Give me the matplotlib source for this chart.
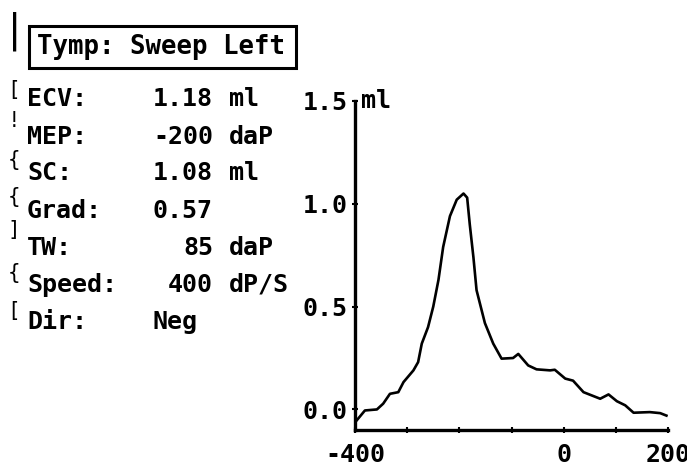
import matplotlib
matplotlib.use("Agg")
import matplotlib.pyplot as plt
from matplotlib.patches import Rectangle

# ---- data ----
pressure = [-397, -381, -358, -346, -333, -317, -307, -288, -279, -272, -260, -250,
            -240, -231, -218, -205, -192, -185, -180, -173, -167, -157, -151, -135,
            -119, -97, -87, -68, -52, -26, -17, 3, 18, 38, 54, 70, 86, 102, 118,
            134, 165, 185, 197]
compliance = [-0.054, -0.005, 0.0, 0.028, 0.076, 0.084, 0.133, 0.19, 0.23, 0.32, 0.40, 0.50,
              0.63, 0.79, 0.94, 1.02, 1.05, 1.03, 0.90, 0.74, 0.58, 0.48, 0.42, 0.32,
              0.247, 0.25, 0.27, 0.214, 0.195, 0.19, 0.193, 0.15, 0.14, 0.084, 0.068, 0.052, 0.073, 0.04, 0.02,
              -0.016, -0.013, -0.018, -0.03]
x_ticks = [-400, -300, -200, -100, 0, 100, 200]
x_ticklabels = ["-400", "", "", "", "0", "", "200"]
y_ticks = [0.0, 0.5, 1.0, 1.5]
y_ticklabels = ["0.0", "0.5", "1.0", "1.5"]

title = "Tymp: Sweep Left"
labels = ["ECV:", "MEP:", "SC:", "Grad:", "TW:", "Speed:", "Dir:"]
values = ["1.18", "-200", "1.08", "0.57", "85", "400", ""]
units = ["ml", "daP", "ml", "", "daP", "dP/S", ""]
dir_value = "Neg"

W, H = 687, 467
fig = plt.figure(figsize=(W / 100, H / 100), dpi=100)
fig.patch.set_facecolor("white")

FONT = "DejaVu Sans Mono"
FS = 18

def fx(px):
    return px / W

def fy(py):
    return 1 - py / H

# title box
fig.patches.append(Rectangle((fx(29), fy(68)), fx(296) - fx(29), fy(26) - fy(68),
                             transform=fig.transFigure, fill=False, lw=2.2, ec="black"))
fig.text(fx(37), fy(47), title, family=FONT, fontsize=18.5, weight="bold",
         ha="left", va="center")

rows_y = [99, 137, 173, 211, 248, 285, 322]
for lab, val, un, yy in zip(labels, values, units, rows_y):
    fig.text(fx(27), fy(yy), lab, family=FONT, fontsize=FS, weight="bold", ha="left", va="center")
    if val:
        fig.text(fx(213), fy(yy), val, family=FONT, fontsize=FS, weight="bold", ha="right", va="center")
    if un:
        fig.text(fx(229), fy(yy), un, family=FONT, fontsize=FS, weight="bold", ha="left", va="center")
fig.text(fx(152), fy(rows_y[-1]), dir_value, family=FONT, fontsize=FS, weight="bold",
         ha="left", va="center")

# left-edge scan artifacts
fig.text(fx(15), fy(31), "|", family=FONT, fontsize=28, ha="center", va="center")
marks = [("[", 90), ("!", 121), ("{", 160), ("{", 197), ("]", 230), ("{", 273), ("[", 311)]
for m, yy in marks:
    fig.text(fx(14), fy(yy), m, family=FONT, fontsize=15, ha="center", va="center")

# axes
ax = fig.add_axes([fx(355), fy(430), fx(668) - fx(355), fy(101) - fy(430)])
ax.plot(pressure, compliance, color="black", lw=1.9)
ax.set_xlim(-400, 200)
ax.set_ylim(-0.1, 1.5)
for s in ["top", "right"]:
    ax.spines[s].set_visible(False)
for s in ["left", "bottom"]:
    ax.spines[s].set_linewidth(2.4)
ax.set_xticks(x_ticks)
ax.set_xticklabels(x_ticklabels)
ax.set_yticks(y_ticks)
ax.set_yticklabels(y_ticklabels)
ax.tick_params(axis="both", direction="inout", length=5, width=1.5, labelsize=FS)
ax.tick_params(axis="x", pad=7)
ax.tick_params(axis="y", pad=3)
for lbl in ax.get_xticklabels() + ax.get_yticklabels():
    lbl.set_family(FONT)
    lbl.set_weight("bold")
ax.patch.set_alpha(0)
ax.text(0.02, 1.0, "ml", transform=ax.transAxes, family=FONT, fontsize=FS,
        weight="bold", ha="left", va="center")

fig.savefig("out.png", dpi=100, facecolor="white")
